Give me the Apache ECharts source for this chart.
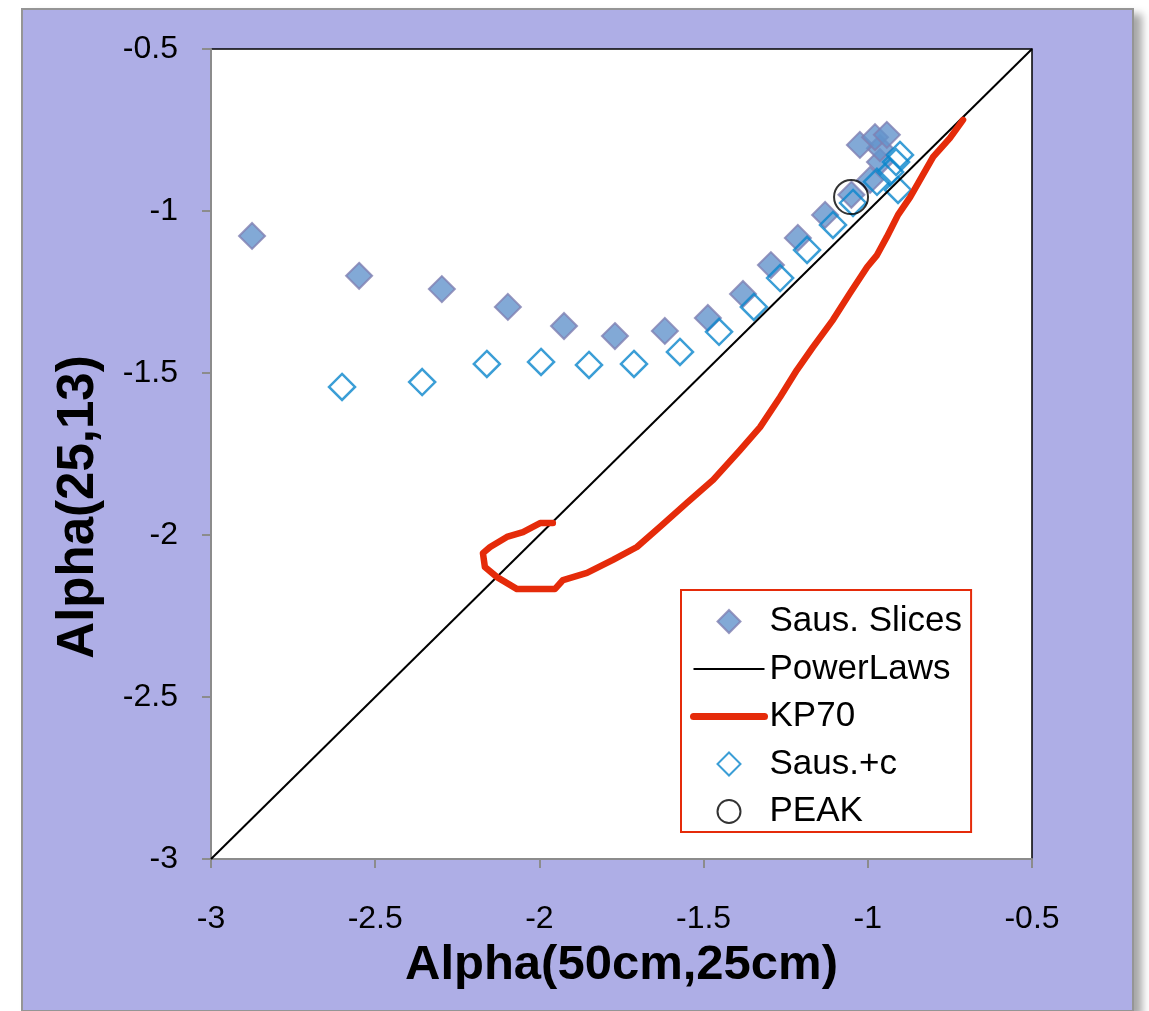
<!DOCTYPE html>
<html lang="en">
<head>
  <meta charset="UTF-8">
  <title>Alpha comparison</title>
  <style>
    body { margin: 0; background: #fff; }
    #panel {
      position: absolute; left: 21px; top: 8px; width: 1109px; height: 1000px;
      background: #aeaee6; border: 2px solid #959595;
      box-shadow: 8px 6px 8px rgba(0,0,0,0.35);
    }
    #chart { position: absolute; left: 0; top: 0; width: 1149px; height: 1011px; }
  </style>
</head>
<body>
  <div id="panel"></div>
  <div id="chart"></div>

  <script src="https://cdn.jsdelivr.net/npm/echarts/dist/echarts.min.js"></script>
  <script>
    // values
    var slicesX = [-2.875, -2.549, -2.297, -2.096, -1.925, -1.770, -1.618, -1.487, -1.380, -1.295, -1.213, -1.130, -1.050, -0.993, -0.963, -0.963, -1.024, -0.978, -0.942];
    var slicesY = [-1.077, -1.200, -1.241, -1.296, -1.355, -1.386, -1.370, -1.330, -1.256, -1.167, -1.083, -1.012, -0.950, -0.904, -0.849, -0.806, -0.796, -0.772, -0.765];

    var plusCX = [-2.601, -2.357, -2.160, -1.995, -1.849, -1.712, -1.572, -1.453, -1.347, -1.267, -1.185, -1.106, -1.045, -0.972, -0.908, -0.932, -0.914, -0.902];
    var plusCY = [-1.543, -1.528, -1.472, -1.466, -1.475, -1.472, -1.435, -1.373, -1.296, -1.207, -1.120, -1.043, -0.975, -0.910, -0.935, -0.880, -0.849, -0.827];

    var kpX = [-0.710, -0.750, -0.801, -0.841, -0.871, -0.908, -0.942, -0.972, -1.002, -1.054, -1.106, -1.167, -1.216, -1.267, -1.328, -1.389, -1.471, -1.551, -1.633, -1.703, -1.776, -1.855, -1.928, -1.953, -2.068, -2.129, -2.166, -2.172, -2.150, -2.099, -2.050, -1.998, -1.959];
    var kpY = [-0.719, -0.775, -0.833, -0.904, -0.957, -1.012, -1.080, -1.136, -1.173, -1.253, -1.336, -1.420, -1.491, -1.574, -1.667, -1.738, -1.830, -1.901, -1.975, -2.037, -2.077, -2.117, -2.139, -2.167, -2.167, -2.130, -2.099, -2.056, -2.037, -2.006, -1.991, -1.963, -1.963];

    var powerX = [-3, -0.5];
    var powerY = [-3, -0.5];

    var peakX = [-1.051];
    var peakY = [-0.957];

    function pairs(xs, ys) {
      return xs.map(function (x, i) { return [x, ys[i]]; });
    }

    var font = 'Liberation Sans, Arial, sans-serif';
    var diamondPath = 'path://M0,-1L1,0L0,1L-1,0Z';
    var noMarker = { color: 'rgba(0,0,0,0)', borderColor: 'rgba(0,0,0,0)', borderWidth: 0 };
    var myChart = echarts.init(document.getElementById('chart'));

    var option = {
      animation: false,
      textStyle: { fontFamily: font },
      grid: {
        left: 211, top: 49, right: 117, bottom: 152,
        show: true, backgroundColor: '#fff', borderColor: '#000', borderWidth: 1.5
      },
      legend: {
        orient: 'vertical',
        left: 681, top: 590,
        backgroundColor: '#fff',
        borderColor: '#e52b0a', borderWidth: 2,
        padding: [14, 9, 3, 9],
        itemWidth: 71, itemHeight: 23, itemGap: 12.5,
        symbolKeepAspect: true,
        textStyle: { fontSize: 35, color: '#000', fontFamily: font },
        data: [
          { name: 'Saus. Slices', icon: diamondPath },
          { name: 'PowerLaws', itemStyle: noMarker, lineStyle: { color: '#000', width: 2 } },
          { name: 'KP70', itemStyle: noMarker, lineStyle: { color: '#e52b0a', width: 7, cap: 'round' } },
          { name: 'Saus.+c', icon: diamondPath },
          { name: 'PEAK' }
        ]
      },
      xAxis: {
        type: 'value', min: -3, max: -0.5, interval: 0.5,
        name: 'Alpha(50cm,25cm)', nameLocation: 'middle', nameGap: 82,
        nameTextStyle: { fontSize: 49, fontWeight: 'bold', color: '#000' },
        axisLine: { lineStyle: { color: '#8c8c8c', width: 2 } },
        axisTick: { show: true, length: 9, lineStyle: { color: '#8c8c8c', width: 2 } },
        axisLabel: { fontSize: 32, color: '#000', margin: 44 },
        splitLine: { show: false }
      },
      yAxis: {
        type: 'value', min: -3, max: -0.5, interval: 0.5,
        name: 'Alpha(25,13)', nameLocation: 'middle', nameGap: 107,
        nameTextStyle: { fontSize: 51, fontWeight: 'bold', color: '#000', padding: [0, 106, 0, 0] },
        axisLine: { lineStyle: { color: '#8c8c8c', width: 2 } },
        axisTick: { show: true, length: 9, lineStyle: { color: '#8c8c8c', width: 2 } },
        axisLabel: { fontSize: 32, color: '#000', margin: 33 },
        splitLine: { show: false }
      },
      series: [
        {
          name: 'Saus. Slices',
          type: 'scatter',
          symbol: 'diamond',
          symbolSize: 26,
          data: pairs(slicesX, slicesY),
          itemStyle: { color: '#6393cc', borderColor: '#7f7fb2', borderWidth: 2 }
        },
        {
          name: 'PowerLaws',
          type: 'line',
          symbol: 'none',
          data: pairs(powerX, powerY),
          lineStyle: { color: '#000', width: 2 },
          itemStyle: { color: '#000' }
        },
        {
          name: 'KP70',
          type: 'line',
          symbol: 'none',
          data: pairs(kpX, kpY),
          lineStyle: { color: '#e52b0a', width: 6.5, cap: 'round', join: 'round' },
          itemStyle: { color: '#e52b0a' }
        },
        {
          name: 'Saus.+c',
          type: 'scatter',
          symbol: 'diamond',
          symbolSize: 26,
          data: pairs(plusCX, plusCY),
          itemStyle: { color: 'rgba(255,255,255,0)', borderColor: '#0a86cc', borderWidth: 2.5 }
        },
        {
          name: 'PEAK',
          type: 'scatter',
          symbol: 'circle',
          symbolSize: 34,
          data: pairs(peakX, peakY),
          itemStyle: { color: 'rgba(255,255,255,0)', borderColor: '#000', borderWidth: 2 }
        }
      ]
    };

    myChart.setOption(option);
  </script>
</body>
</html>
